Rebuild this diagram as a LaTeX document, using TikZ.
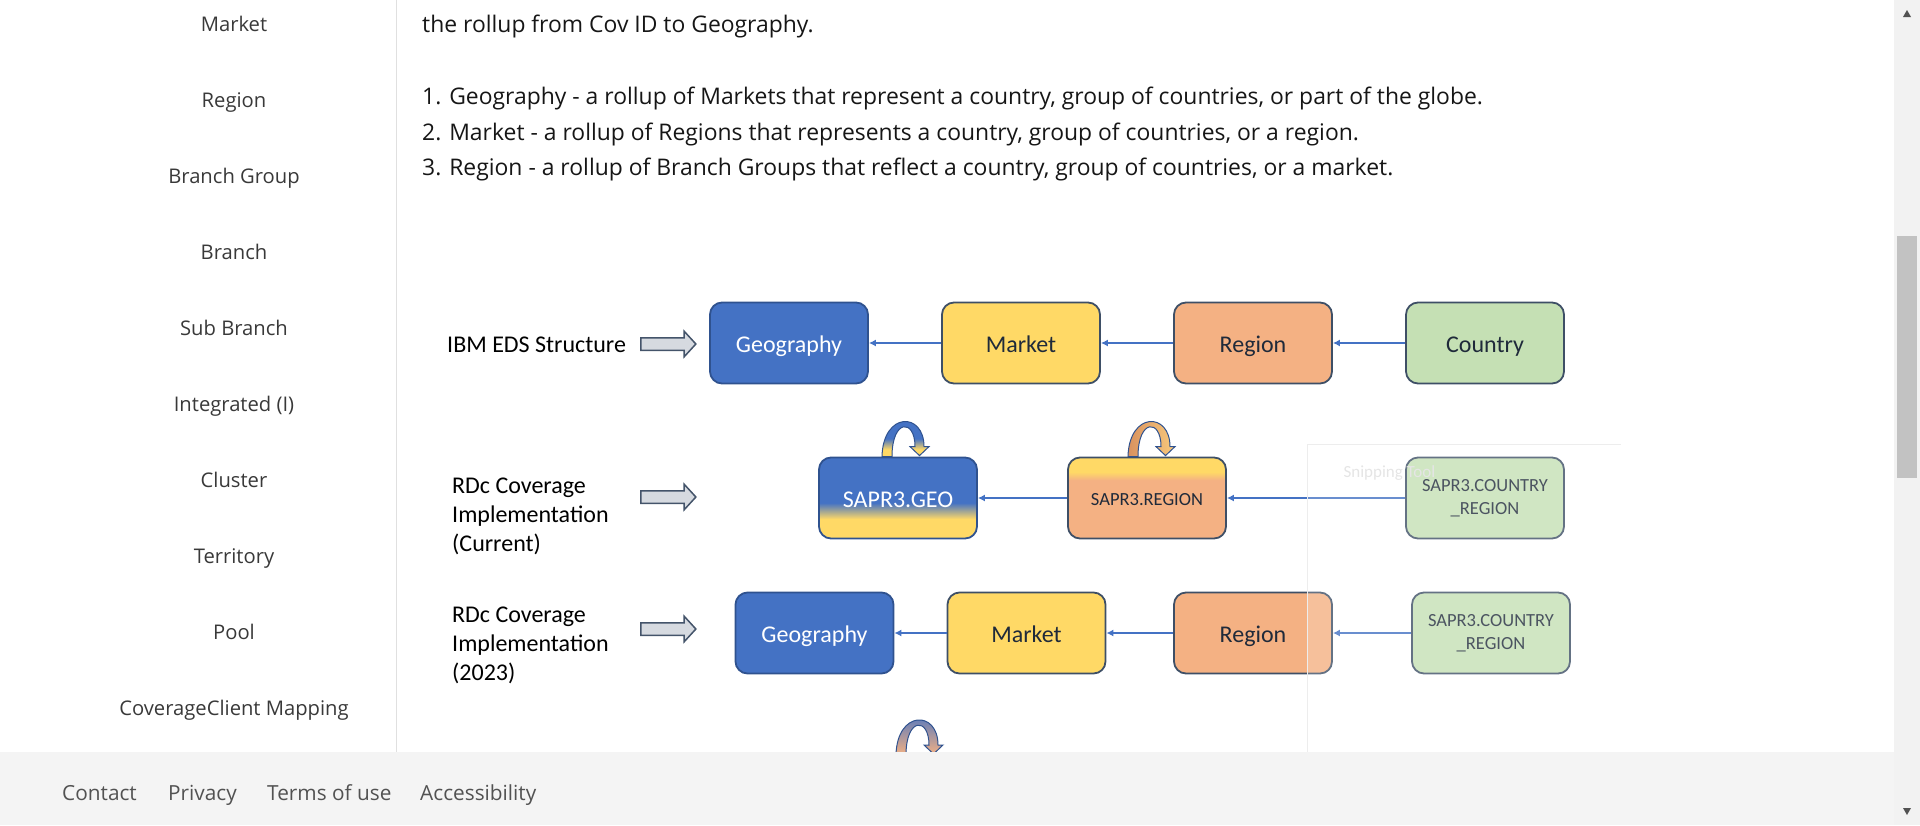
\documentclass[tikz,border=0pt]{standalone}
\usepackage{fontspec}
\setmainfont{Open Sans}
\newfontfamily\calibri{Carlito}
\usetikzlibrary{arrows.meta,shapes.arrows}

\definecolor{geoblue}{HTML}{4472C4}
\definecolor{geoline}{HTML}{2F528F}
\definecolor{mktyellow}{HTML}{FFD966}
\definecolor{regorange}{HTML}{F4B183}
\definecolor{regdark}{HTML}{D9925F}
\definecolor{reglight}{HTML}{F8C97C}
\definecolor{cntgreen}{HTML}{C5E0B4}
\definecolor{boxline}{HTML}{3E4F66}
\definecolor{boxtext}{HTML}{1F2A3A}
\definecolor{bodytext}{HTML}{161616}
\definecolor{sidetext}{HTML}{393939}
\definecolor{foottext}{HTML}{525252}
\definecolor{footgray}{HTML}{F4F4F4}
\definecolor{rulegray}{HTML}{E0E0E0}
\definecolor{arrowfill}{HTML}{D6DAE0}
\definecolor{arrowline}{HTML}{44546A}

\pgfdeclareverticalshading{geoshade}{100bp}{color(0bp)=(mktyellow); color(37bp)=(mktyellow); color(47bp)=(geoblue); color(100bp)=(geoblue)}
\pgfdeclareverticalshading{regshade}{100bp}{color(0bp)=(regorange); color(61bp)=(regorange); color(66bp)=(mktyellow); color(100bp)=(mktyellow)}
\pgfdeclareverticalshading{geoloopshade}{100bp}{color(0bp)=(mktyellow); color(33bp)=(mktyellow); color(45bp)=(geoblue); color(100bp)=(geoblue)}

% curved self arrow sitting on top of a box
\newcommand{\selfloop}[2]{%
  \draw[loopline,shift={#1},#2] (-21,0)
    .. controls (-20,-45) and (21,-45) .. (21,-10)
    -- (26,-10) -- (16.5,-1) -- (7,-10) -- (12,-10)
    .. controls (12,-38) and (-11,-38) .. (-11,0) -- cycle;
}

\begin{document}
\begin{tikzpicture}[x=1pt,y=-1pt,
    body/.style={text=bodytext,font=\fontsize{22.9}{27}\selectfont,inner sep=0pt},
    side/.style={text=sidetext,font=\fontsize{20.2}{24}\selectfont,inner sep=0pt},
    foot/.style={text=foottext,font=\fontsize{20.8}{24}\selectfont,inner sep=0pt},
    label/.style={font=\calibri\fontsize{24}{29}\selectfont,inner sep=0pt,align=left},
    box/.style={draw=boxline,line width=1.8pt,rounded corners=12pt,minimum width=158pt,
      minimum height=81pt,inner sep=2pt,text=boxtext,font=\calibri\fontsize{24}{29}\selectfont,
      align=center,text height=18.8pt,text depth=0pt},
    geobox/.style={box,fill=geoblue,draw=geoline,text=white},
    mktbox/.style={box,fill=mktyellow},
    regbox/.style={box,fill=regorange},
    cntbox/.style={box,fill=cntgreen},
    small/.style={font=\calibri\fontsize{18.5}{23}\selectfont,text height=15.2pt},
    twoline/.style={small,text height=,text depth=},
    link/.style={draw=geoblue,line width=1.3pt,-{Latex[length=7pt,width=7pt]}},
    blockarrow/.style={single arrow,draw=arrowline,fill=arrowfill,line width=1.5pt,
      minimum height=55pt,inner xsep=0pt,inner ysep=5.5pt,single arrow head extend=6.5pt,
      single arrow tip angle=95},
    loopline/.style={draw=geoline,line width=1pt}]

\useasboundingbox (0,0) rectangle (1920,825);

% sidebar
\draw[rulegray,line width=1pt] (396,0) -- (396,752);
\foreach \item [count=\i from 0] in {Market,Region,Branch Group,Branch,Sub Branch,Integrated (I),Cluster,Territory,Pool,CoverageClient Mapping}
  \node[side,anchor=base] (side\i) at (234,31.5+76*\i) {\item};

% text above the picture
\node[body,anchor=base west] (intro) at (422,32) {the rollup from Cov ID to Geography.};
\node[body,anchor=base west] (item1) at (422,104) {1. Geography - a rollup of Markets that represent a country, group of countries, or part of the globe.};
\node[body,anchor=base west] (item2) at (422,140) {2. Market - a rollup of Regions that represents a country, group of countries, or a region.};
\node[body,anchor=base west] (item3) at (422,175) {3. Region - a rollup of Branch Groups that reflect a country, group of countries, or a market.};

% row 1
\node[label,anchor=base west] (lab1) at (447,352) {IBM EDS Structure};
\node[blockarrow] (arr1) at (665.5,344) {};
\node[geobox] (geo1) at (789,343) {Geography};
\node[mktbox] (mkt1) at (1021,343) {Market};
\node[regbox] (reg1) at (1253,343) {Region};
\node[cntbox] (cnt1) at (1485,343) {Country};
\draw[link] (mkt1) -- (geo1);
\draw[link] (reg1) -- (mkt1);
\draw[link] (cnt1) -- (reg1);

% row 2
\node[label,anchor=north west] (lab2) at (452,478) {RDc Coverage\\Implementation\\(Current)};
\node[blockarrow] (arr2) at (665.5,497) {};
\node[box,draw=geoline,text=white,shading=geoshade] (geo2) at (898,498) {SAPR3.GEO};
\node[box,shading=regshade,small] (reg2) at (1147,498) {SAPR3.REGION};
\node[cntbox,twoline] (cnt2) at (1485,498) {SAPR3.COUNTRY\\\_REGION};
\draw[link] (reg2) -- (geo2);
\draw[link] (cnt2) -- (reg2);
\selfloop{(geo2.north)}{xshift=5pt,shading=geoloopshade}
\selfloop{(reg2.north)}{xshift=2pt,left color=regdark,right color=reglight}

% row 3
\node[label,anchor=north west] (lab3) at (452,607) {RDc Coverage\\Implementation\\(2023)};
\node[blockarrow] (arr3) at (665.5,629) {};
\node[geobox] (geo3) at (814.5,633) {Geography};
\node[mktbox] (mkt3) at (1026.5,633) {Market};
\node[regbox] (reg3) at (1253,633) {Region};
\node[cntbox,twoline] (cnt3) at (1491,633) {SAPR3.COUNTRY\\\_REGION};
\draw[link] (mkt3) -- (geo3);
\draw[link] (reg3) -- (mkt3);
\draw[link] (cnt3) -- (reg3);
\coordinate (loopfoot) at (917,755);
\selfloop{(loopfoot)}{top color=geoblue,bottom color=regorange}

% faint snipping tool window
\fill[white,fill opacity=0.2] (1307,444) rectangle (1621,752);
\draw[black!7] (1307,752) -- (1307,444) -- (1621,444);
\node[text=black!10,font=\calibri\fontsize{17}{20}\selectfont,anchor=west] (snip) at (1340,473) {Snipping Tool};

% footer
\fill[footgray] (0,752) rectangle (1894,825);
\node[foot,anchor=base west] (contact) at (62,800) {Contact};
\node[foot,anchor=base west] (privacy) at (168,800) {Privacy};
\node[foot,anchor=base west] (terms) at (267,800) {Terms of use};
\node[foot,anchor=base west] (access) at (420,800) {Accessibility};

% scrollbar
\fill[black!5] (1894,0) rectangle (1920,825);
\fill[black!24] (1897,236) rectangle (1917,478);
\fill[black!68] (1903,17) -- (1911,17) -- (1907,10) -- cycle;
\fill[black!68] (1903,808) -- (1911,808) -- (1907,815) -- cycle;

\end{tikzpicture}
\end{document}
